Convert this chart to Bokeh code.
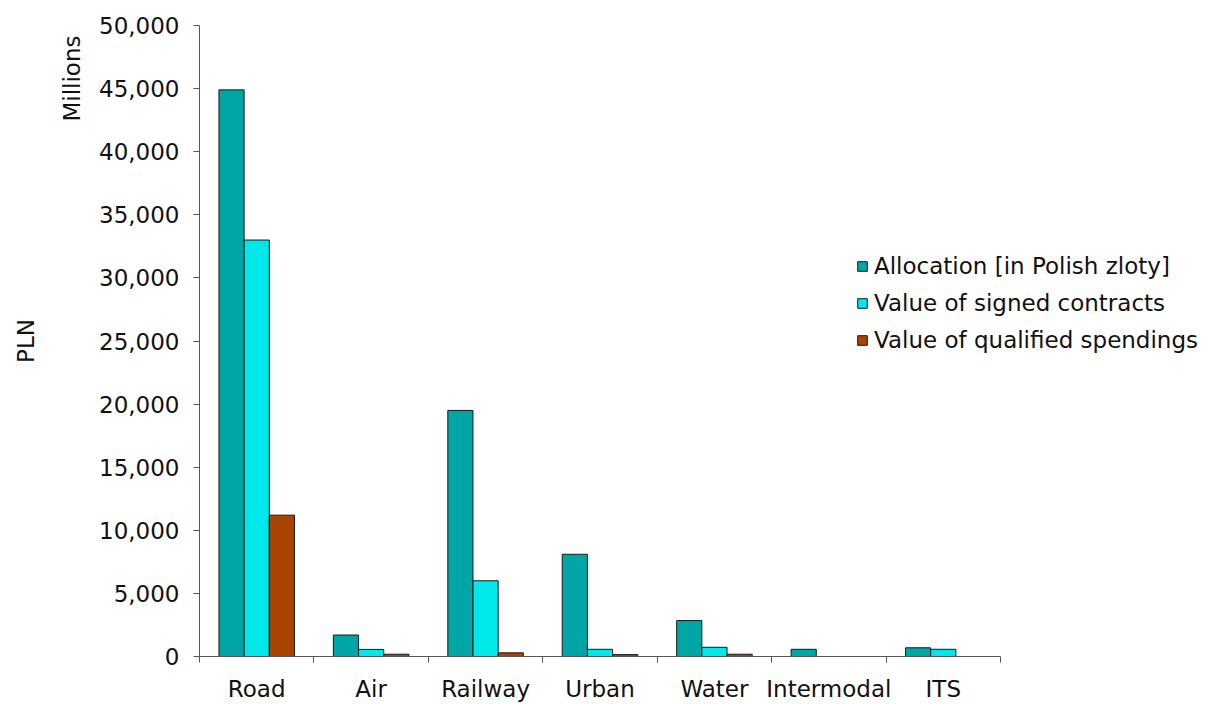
import numpy as np
from bokeh.plotting import figure
from bokeh.models import (Range1d, FixedTicker, NumeralTickFormatter, Legend, LegendItem,
                          Title, ColumnDataSource)
from bokeh.transform import dodge
from bokeh.embed import file_html
from bokeh.resources import INLINE

categories = ["Road", "Air", "Railway", "Urban", "Water", "Intermodal", "ITS"]
allocation = [44900, 1700, 19500, 8100, 2850, 570, 690]
signed_contracts = [33000, 560, 6000, 570, 730, 0, 570]
qualified_spendings = [11200, 180, 290, 150, 180, 0, 0]

series_names = ["Allocation [in Polish zloty]", "Value of signed contracts",
                "Value of qualified spendings"]
colors = ["#00A6A6", "#00E8EA", "#A84400"]

FONT = "DejaVu Sans"
FS = "23px"
n = len(categories)
pos = np.arange(n) + 0.5

src = ColumnDataSource(dict(x=pos, a=allocation, s=signed_contracts, q=qualified_spendings))

# frame spans to the right edge so the legend is not clipped; x axis is bounded to the categories
x_end = n * (1216 - 199) / 801

p = figure(width=1216, height=704, output_backend="svg", toolbar_location=None,
           x_range=Range1d(0, x_end), y_range=Range1d(0, 50000),
           min_border_left=199, min_border_right=0, min_border_top=25,
           min_border_bottom=46)
p.outline_line_color = None
p.xgrid.grid_line_color = None
p.ygrid.grid_line_color = None

w = 0.22
renderers = []
for col, off, c in zip(["a", "s", "q"], [-w, 0, w], colors):
    r = p.vbar(x=dodge("x", off), top=col, width=w, source=src, fill_color=c,
               line_color="#1a1a1a", line_width=1)
    renderers.append(r)

# y axis
yax = p.yaxis[0]
yax.ticker = FixedTicker(ticks=list(range(0, 50001, 5000)))
yax.formatter = NumeralTickFormatter(format="0,0")
yax.major_label_text_font = FONT
yax.major_label_text_font_size = FS
yax.major_label_text_color = "#111111"
yax.major_tick_out = 6
yax.major_tick_in = 0
yax.minor_tick_line_color = None
yax.axis_line_color = "#555555"
yax.major_tick_line_color = "#555555"
yax.major_label_standoff = 14

# x axis
xax = p.xaxis[0]
xax.bounds = (0, n)
xax.ticker = FixedTicker(ticks=list(pos), minor_ticks=list(range(n + 1)))
xax.major_label_overrides = {float(v): c for v, c in zip(pos, categories)}
xax.major_label_text_font = FONT
xax.major_label_text_font_size = FS
xax.major_label_text_color = "#111111"
xax.major_tick_line_color = None
xax.major_tick_out = 0
xax.major_tick_in = 0
xax.minor_tick_line_color = "#555555"
xax.minor_tick_out = 6
xax.minor_tick_in = 0
xax.axis_line_color = "#555555"
xax.major_label_standoff = 13

# legend
legend = Legend(items=[LegendItem(label=nm, renderers=[r]) for nm, r in zip(series_names, renderers)],
                location=(657, 301), orientation="vertical",
                label_text_font=FONT, label_text_font_size=FS, label_text_color="#111111",
                glyph_width=12, glyph_height=12, label_height=30, label_standoff=6,
                spacing=7, padding=0, margin=0, border_line_color=None,
                background_fill_alpha=0)
p.add_layout(legend, "center")

# axis titles
p.add_layout(Title(text="Millions", align="right", offset=10, standoff=24,
                   text_font=FONT, text_font_size=FS, text_font_style="normal",
                   text_color="#111111"), "left")
p.add_layout(Title(text="PLN", align="center", standoff=12,
                   text_font=FONT, text_font_size=FS, text_font_style="normal",
                   text_color="#111111"), "left")

open("out.html", "w").write(file_html(p, INLINE))
